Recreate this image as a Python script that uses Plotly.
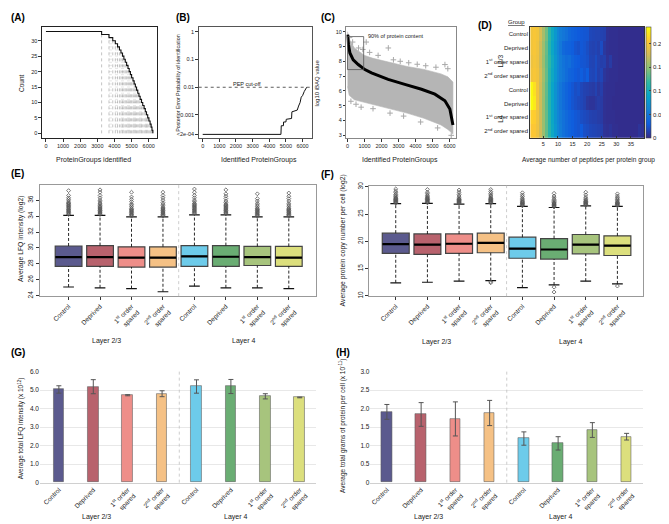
import plotly.graph_objects as go

W, H = 669, 524
FONT = "Liberation Sans, Arial, Helvetica, sans-serif"

# ======================= DATA =======================
# (A) protein groups identified vs. number of samples (count)
a_x = [0, 3250, 3680, 3900, 4050, 4180, 4290, 4380, 4470, 4550, 4630, 4710,
       4790, 4860, 4930, 5000, 5080, 5150, 5220, 5290, 5360, 5430, 5500,
       5580, 5650, 5730, 5800, 5870, 5940, 6010, 6080, 6140, 6190, 6240]
a_count = [33, 32, 31, 30, 29, 28, 27, 26, 25, 24, 23, 22, 21, 20, 19, 18,
           17, 16, 15, 14, 13, 12, 11, 10, 9, 8, 7, 6, 5, 4, 3, 2, 1, 0]
a_xticks = [0, 1000, 2000, 3000, 4000, 5000, 6000]
a_yticks = [0, 5, 10, 15, 20, 25, 30]

# (B) posterior error probability
b_x = [0, 4700, 4720, 4850, 4860, 5000, 5020, 5340, 5360, 5640, 5680, 5760,
       5850, 5920, 6000, 6100, 6250]
b_pep = [2e-4, 2e-4, 4.1e-4, 4.1e-4, 5.6e-4, 5.6e-4, 7e-4, 7.5e-4, 1.3e-3,
         1.4e-3, 1.5e-3, 2.1e-3, 2.8e-3, 4.4e-3, 5e-3, 7e-3, 1e-2]
b_cutoff = 0.01
b_yticks = [1, 0.1, 0.01, 0.001, 2e-4]
b_yticktext = ["1", "0.1", "0.01", "0.001", "<2e-04"]

# (C) log10 iBAQ values
c_curve_x = [0, 20, 60, 140, 335, 630, 1020, 1410, 2390, 3370, 4350, 5140,
             5730, 6020, 6120, 6160, 6200]
c_curve_y = [9.8, 9.4, 9.1, 8.56, 8.1, 7.78, 7.44, 7.22, 6.78, 6.44, 6.11,
             5.78, 5.33, 4.78, 4.22, 3.89, 3.7]
c_env_x = [0, 100, 400, 1000, 1500, 2500, 3500, 4500, 5000, 5500, 5900, 6100, 6200]
c_env_hi = [10.0, 9.5, 8.9, 8.4, 8.2, 7.9, 7.65, 7.45, 7.3, 7.15, 6.95, 6.75, 6.6]
c_env_lo = [6.3, 5.7, 5.4, 5.2, 5.1, 4.8, 4.5, 4.15, 3.95, 3.7, 3.4, 3.2, 3.1]
c_out_x = [120, 300, 650, 900, 1100, 1300, 1800, 2400, 2700, 3100, 3600, 4100,
           4600, 5200, 5730, 5900, 200, 500, 800, 1500, 2500, 3300, 4300, 5300, 6100]
c_out_y = [9.6, 9.3, 8.9, 8.8, 9.3, 8.6, 8.4, 8.9, 8.1, 8.0, 7.9, 7.8,
           7.7, 7.6, 7.78, 7.5, 5.3, 5.1, 4.9, 4.8, 4.5, 4.3, 3.9, 3.5, 3.0]
c_box_x = [0, 950]
c_box_y = [7.44, 9.67]

# (D) normalised likelihood of peptides per protein group (columns 1..39)
d_l23_control = [0.198, 0.202, 0.198, 0.180, 0.160, 0.140, 0.115, 0.095, 0.078, 0.064,
                 0.055, 0.050, 0.045, 0.038, 0.034, 0.032, 0.029, 0.027, 0.026, 0.025,
                 0.017, 0.016, 0.015, 0.015, 0.014, 0.013, 0.004, 0.003, 0.003, 0.003,
                 0.002, 0.002, 0.002, 0.002, 0.002, 0.002, 0.002, 0.002, 0.002]
d_l23_deprived = [0.198, 0.202, 0.196, 0.176, 0.156, 0.136, 0.112, 0.092, 0.075, 0.062,
                  0.052, 0.040, 0.036, 0.034, 0.031, 0.025, 0.023, 0.027, 0.025, 0.021,
                  0.015, 0.014, 0.016, 0.013, 0.020, 0.008, 0.004, 0.003, 0.003, 0.003,
                  0.002, 0.002, 0.002, 0.002, 0.002, 0.002, 0.002, 0.002, 0.002]
d_l23_first = [0.195, 0.200, 0.195, 0.175, 0.155, 0.134, 0.116, 0.096, 0.078, 0.065,
               0.055, 0.048, 0.042, 0.044, 0.036, 0.031, 0.029, 0.026, 0.025, 0.023,
               0.016, 0.015, 0.020, 0.014, 0.012, 0.013, 0.005, 0.010, 0.003, 0.003,
               0.002, 0.002, 0.002, 0.002, 0.002, 0.002, 0.002, 0.002, 0.002]
d_l23_second = [0.198, 0.202, 0.197, 0.178, 0.157, 0.136, 0.112, 0.094, 0.077, 0.064,
                0.055, 0.049, 0.042, 0.036, 0.033, 0.029, 0.027, 0.031, 0.026, 0.031,
                0.017, 0.016, 0.020, 0.013, 0.016, 0.007, 0.004, 0.003, 0.003, 0.003,
                0.002, 0.002, 0.002, 0.002, 0.002, 0.002, 0.002, 0.002, 0.002]
d_l4_control = [0.232, 0.220, 0.198, 0.176, 0.155, 0.134, 0.110, 0.090, 0.073, 0.060,
                0.050, 0.042, 0.036, 0.030, 0.026, 0.021, 0.023, 0.017, 0.014, 0.013,
                0.011, 0.010, 0.014, 0.008, 0.012, 0.004, 0.003, 0.003, 0.003, 0.002,
                0.002, 0.002, 0.002, 0.002, 0.002, 0.002, 0.002, 0.002, 0.002]
d_l4_deprived = [0.234, 0.225, 0.198, 0.176, 0.154, 0.133, 0.110, 0.090, 0.073, 0.060,
                 0.050, 0.042, 0.036, 0.030, 0.025, 0.022, 0.019, 0.017, 0.014, 0.008,
                 0.006, 0.006, 0.009, 0.011, 0.010, 0.004, 0.003, 0.003, 0.002, 0.002,
                 0.002, 0.002, 0.002, 0.002, 0.002, 0.002, 0.002, 0.002, 0.002]
d_l4_first = [0.210, 0.208, 0.196, 0.176, 0.155, 0.135, 0.112, 0.092, 0.075, 0.062,
              0.053, 0.046, 0.040, 0.034, 0.031, 0.027, 0.025, 0.021, 0.019, 0.017,
              0.014, 0.013, 0.013, 0.011, 0.010, 0.004, 0.003, 0.003, 0.003, 0.002,
              0.002, 0.002, 0.002, 0.002, 0.002, 0.002, 0.002, 0.002, 0.002]
d_l4_second = [0.204, 0.204, 0.195, 0.176, 0.155, 0.135, 0.112, 0.094, 0.077, 0.064,
               0.055, 0.046, 0.040, 0.035, 0.031, 0.027, 0.025, 0.029, 0.022, 0.020,
               0.017, 0.016, 0.015, 0.014, 0.013, 0.005, 0.004, 0.006, 0.003, 0.003,
               0.002, 0.002, 0.002, 0.002, 0.002, 0.002, 0.002, 0.006, 0.004]
d_row_labels = ["Control", "Deprived", "1<sup>st</sup> order spared", "2<sup>nd</sup> order spared",
                "Control", "Deprived", "1<sup>st</sup> order spared", "2<sup>nd</sup> order spared"]
d_xticks = [5, 10, 15, 20, 25, 30, 35]
d_cbticks = [0, 0.05, 0.1, 0.15, 0.2]

# groups shared by E-H
groups = ["Control", "Deprived", "1<sup>st</sup> order<br>spared", "2<sup>nd</sup> order<br>spared",
          "Control", "Deprived", "1<sup>st</sup> order<br>spared", "2<sup>nd</sup> order<br>spared"]
group_colors = ["#5b5a8e", "#b8626d", "#ee8e89", "#f5c185",
                "#6dcbea", "#6aad73", "#a7c47d", "#dcdf7d"]

# (E) LFQ intensity (log2) box statistics
e_lo = [25.1, 25.0, 24.9, 24.5, 25.2, 25.0, 25.0, 24.9]
e_q1 = [27.7, 27.7, 27.6, 27.6, 27.7, 27.7, 27.8, 27.7]
e_med = [28.85, 28.85, 28.8, 28.8, 28.95, 28.9, 28.85, 28.8]
e_q3 = [30.25, 30.3, 30.15, 30.15, 30.3, 30.3, 30.2, 30.2]
e_hi = [34.1, 34.1, 33.9, 33.9, 34.15, 34.15, 33.9, 33.9]
e_out = [
    [34.2, 34.3, 34.4, 34.5, 34.6, 34.7, 34.8, 34.9, 35.0, 35.1, 35.2, 35.3, 35.4, 35.5, 35.6, 35.7, 35.9, 36.1, 36.3, 36.6, 37.2],
    [34.2, 34.3, 34.4, 34.5, 34.6, 34.7, 34.8, 34.9, 35.0, 35.1, 35.2, 35.3, 35.5, 35.6, 35.8, 36.0, 36.3, 36.6, 37.0, 37.3],
    [34.0, 34.1, 34.2, 34.3, 34.4, 34.5, 34.6, 34.7, 34.8, 34.9, 35.0, 35.2, 35.4, 35.5, 35.8, 36.1, 36.4, 37.0],
    [34.0, 34.1, 34.2, 34.3, 34.4, 34.5, 34.6, 34.7, 34.8, 34.9, 35.0, 35.1, 35.3, 35.5, 35.7, 36.0, 36.3, 36.6, 37.0],
    [34.3, 34.4, 34.5, 34.6, 34.7, 34.8, 34.9, 35.0, 35.1, 35.2, 35.3, 35.4, 35.5, 35.6, 35.8, 36.0, 36.3, 36.6, 37.0, 37.4],
    [34.3, 34.4, 34.5, 34.6, 34.7, 34.8, 34.9, 35.0, 35.1, 35.2, 35.3, 35.4, 35.5, 35.7, 35.9, 36.2, 36.5, 36.8, 37.3],
    [34.0, 34.1, 34.2, 34.3, 34.4, 34.5, 34.6, 34.7, 34.8, 34.9, 35.0, 35.2, 35.4, 35.6, 35.9, 36.2, 36.8],
    [34.0, 34.1, 34.2, 34.3, 34.4, 34.5, 34.6, 34.7, 34.8, 34.9, 35.0, 35.2, 35.4, 35.6, 35.9, 36.2, 36.5, 36.9],
]

# (F) protein copy number per cell (log2) box statistics
f_lo = [12.4, 12.5, 12.7, 12.8, 11.5, 12.0, 12.7, 12.2]
f_q1 = [17.8, 17.6, 17.8, 17.9, 16.9, 16.75, 17.7, 17.4]
f_med = [19.5, 19.4, 19.55, 19.7, 18.65, 18.5, 19.4, 19.2]
f_q3 = [21.5, 21.35, 21.35, 21.5, 20.75, 20.5, 21.25, 21.0]
f_hi = [26.9, 26.95, 26.8, 26.9, 26.4, 26.2, 26.5, 26.4]
f_out = [
    [27.0, 27.1, 27.2, 27.3, 27.4, 27.5, 27.6, 27.7, 27.8, 27.9, 28.0, 28.2, 28.4, 28.6, 28.9, 29.2, 29.6],
    [27.05, 27.15, 27.25, 27.35, 27.5, 27.6, 27.7, 27.8, 27.9, 28.0, 28.2, 28.4, 28.7, 29.0, 29.5],
    [26.9, 27.0, 27.1, 27.2, 27.3, 27.4, 27.5, 27.6, 27.7, 27.8, 28.0, 28.3, 28.6, 29.0, 29.4],
    [27.0, 27.1, 27.2, 27.3, 27.4, 27.5, 27.6, 27.7, 27.8, 27.9, 28.1, 28.3, 28.5, 28.8, 29.1, 29.5, 12.6, 12.4],
    [26.5, 26.6, 26.7, 26.8, 26.9, 27.0, 27.1, 27.2, 27.3, 27.5, 27.7, 27.9, 28.2, 28.5, 28.9],
    [26.3, 26.4, 26.5, 26.6, 26.7, 26.8, 26.9, 27.0, 27.1, 27.3, 27.5, 27.7, 28.0, 28.3, 28.8, 11.6, 10.7],
    [26.6, 26.7, 26.8, 26.9, 27.0, 27.1, 27.2, 27.3, 27.4, 27.6, 27.8, 28.1, 28.5, 29.0],
    [26.5, 26.6, 26.7, 26.8, 26.9, 27.0, 27.1, 27.2, 27.4, 27.6, 27.8, 28.0, 28.3, 28.7, 11.8],
]

# (G) average total LFQ intensity (x10^12)
g_val = [5.03, 5.18, 4.72, 4.80, 5.19, 5.19, 4.66, 4.60]
g_err = [0.20, 0.38, 0.03, 0.16, 0.36, 0.38, 0.14, 0.02]
g_yticks = [0, 1, 2, 3, 4, 5, 6]
g_yticktext = ["0", "1.0", "2.0", "3.0", "4.0", "5.0", "6.0"]

# (H) average total grams of protein per cell (x10^-11)
h_val = [1.91, 1.84, 1.72, 1.88, 1.19, 1.06, 1.42, 1.24]
h_err = [0.20, 0.32, 0.46, 0.34, 0.18, 0.18, 0.20, 0.09]
h_yticks = [0, 0.5, 1, 1.5, 2, 2.5, 3]
h_yticktext = ["0", "0.5", "1.0", "1.5", "2.0", "2.5", "3.0"]

layers = ["Layer 2/3", "Layer 4"]

# ======================= HELPERS =======================
def xd(a, b):
    return [a / W, b / W]


def yd(top, bottom):
    return [1 - bottom / H, 1 - top / H]


def px(x):
    return x / W


def py(y):
    return 1 - y / H


annotations = []
shapes = []


def note(text, x, y, size=7, angle=0, bold=False, xanchor="center", color="#222"):
    if bold:
        text = "<b>" + text + "</b>"
    annotations.append(dict(text=text, x=px(x), y=py(y), xref="paper", yref="paper",
                            showarrow=False, textangle=angle, xanchor=xanchor, yanchor="middle",
                            font=dict(size=size, family=FONT, color=color)))


def framed(domain, rng, linecolor="#222", tickfont=5.5, **kw):
    d = dict(domain=domain, range=rng, showline=True, mirror=True, linecolor=linecolor,
             linewidth=1, showgrid=False, zeroline=False, ticks="outside", ticklen=2.5,
             tickwidth=0.8, tickcolor="#333",
             tickfont=dict(size=tickfont, family=FONT, color="#222"))
    d.update(kw)
    return d


fig = go.Figure()
n = len(groups)
idx = list(range(n))

# ---------------- (A) ----------------
vx, vy = [], []
for k in range(1, len(a_x)):
    vx += [a_x[k], a_x[k], None]
    vy += [0, a_count[k - 1], None]
hx, hy = [], []
for k in range(2, len(a_x) - 1):
    hx += [a_x[2], a_x[k + 1], None]
    hy += [a_count[k], a_count[k], None]
fig.add_trace(go.Scatter(x=hx, y=hy, mode="lines", line=dict(color="#cfcfcf", width=0.5, dash="dot"),
                         xaxis="x", yaxis="y", showlegend=False, hoverinfo="skip"))
fig.add_trace(go.Scatter(x=vx, y=vy, mode="lines", line=dict(color="#888", width=0.5, dash="dot"),
                         xaxis="x", yaxis="y", showlegend=False, hoverinfo="skip"))
fig.add_trace(go.Scatter(x=a_x, y=a_count, mode="lines", line=dict(color="#111", width=1.1, shape="hv"),
                         xaxis="x", yaxis="y", showlegend=False))

# ---------------- (B) ----------------
fig.add_trace(go.Scatter(x=b_x, y=b_pep, mode="lines", line=dict(color="#111", width=1),
                         xaxis="x2", yaxis="y2", showlegend=False))
shapes.append(dict(type="line", xref="x2 domain", yref="y2", x0=0, x1=1, y0=b_cutoff, y1=b_cutoff,
                   line=dict(color="#333", width=0.8, dash="dot")))

# ---------------- (C) ----------------
fig.add_trace(go.Scatter(x=c_env_x + c_env_x[::-1], y=c_env_hi + c_env_lo[::-1], mode="lines",
                         fill="toself", fillcolor="#b5b5b5", line=dict(width=0.6, color="#b5b5b5"),
                         xaxis="x3", yaxis="y3", showlegend=False, hoverinfo="skip"))
fig.add_trace(go.Scatter(x=c_out_x, y=c_out_y, mode="markers",
                         marker=dict(symbol="cross-thin-open", size=4, color="#a8a8a8",
                                     line=dict(color="#a8a8a8", width=1)),
                         xaxis="x3", yaxis="y3", showlegend=False))
fig.add_trace(go.Scatter(x=c_curve_x, y=c_curve_y, mode="lines", line=dict(color="#000", width=3),
                         xaxis="x3", yaxis="y3", showlegend=False))
shapes.append(dict(type="rect", xref="x3", yref="y3", x0=c_box_x[0], x1=c_box_x[1],
                   y0=c_box_y[0], y1=c_box_y[1], line=dict(color="#555", width=0.8)))
annotations.append(dict(text="90% of protein content", x=c_box_x[1] + 120, y=c_box_y[1] + 0.05,
                        xref="x3", yref="y3", showarrow=False, xanchor="left", yanchor="middle",
                        font=dict(size=5.5, family=FONT, color="#222")))

# ---------------- (D) ----------------
d_z = [d_l23_control, d_l23_deprived, d_l23_first, d_l23_second,
       d_l4_control, d_l4_deprived, d_l4_first, d_l4_second]
parula = [[0.0, "#352a87"], [0.125, "#0f5cdd"], [0.25, "#1481d6"], [0.375, "#06a4ca"],
          [0.5, "#2eb7a4"], [0.625, "#87bf77"], [0.75, "#d1bb59"], [0.875, "#fec832"],
          [1.0, "#f9fb0e"]]
fig.add_trace(go.Heatmap(z=d_z, x0=1, dx=1, y0=0, dy=1, colorscale=parula, zmin=0, zmax=0.235,
                         xaxis="x4", yaxis="y4",
                         colorbar=dict(x=px(638), xanchor="left", y=py(71.5), yanchor="middle",
                                       len=113 / H, lenmode="fraction", thickness=5,
                                       xpad=0, ypad=0, outlinewidth=0.6, outlinecolor="#444",
                                       tickvals=d_cbticks, ticks="inside", ticklen=2,
                                       tickfont=dict(size=6, family=FONT, color="#222"))))

# ---------------- (E) and (F) boxes ----------------
def boxes(xa, ya, lo, q1, med, q3, hi, outs):
    for i in idx:
        fig.add_trace(go.Box(x=[i], q1=[q1[i]], median=[med[i]], q3=[q3[i]],
                             lowerfence=[q1[i]], upperfence=[q3[i]], width=0.85,
                             fillcolor=group_colors[i], line=dict(color="#444", width=1.2),
                             boxpoints=False, xaxis=xa, yaxis=ya, showlegend=False))
    wx, wy, cx, cy, mx, my = [], [], [], [], [], []
    for i in idx:
        wx += [i, i, None, i, i, None]
        wy += [lo[i], q1[i], None, q3[i], hi[i], None]
        cx += [i - 0.17, i + 0.17, None, i - 0.17, i + 0.17, None]
        cy += [lo[i], lo[i], None, hi[i], hi[i], None]
        mx += [i - 0.42, i + 0.42, None]
        my += [med[i], med[i], None]
    fig.add_trace(go.Scatter(x=wx, y=wy, mode="lines", line=dict(color="#111", width=0.9, dash="3px,2px"),
                             xaxis=xa, yaxis=ya, showlegend=False, hoverinfo="skip"))
    fig.add_trace(go.Scatter(x=cx, y=cy, mode="lines", line=dict(color="#111", width=1.2),
                             xaxis=xa, yaxis=ya, showlegend=False, hoverinfo="skip"))
    fig.add_trace(go.Scatter(x=mx, y=my, mode="lines", line=dict(color="#000", width=2.2),
                             xaxis=xa, yaxis=ya, showlegend=False, hoverinfo="skip"))
    ox, oy = [], []
    for i in idx:
        ox += [i] * len(outs[i])
        oy += outs[i]
    fig.add_trace(go.Scatter(x=ox, y=oy, mode="markers",
                             marker=dict(symbol="diamond-open", size=3, color="#555",
                                         line=dict(color="#555", width=0.8)),
                             xaxis=xa, yaxis=ya, showlegend=False))


boxes("x5", "y5", e_lo, e_q1, e_med, e_q3, e_hi, e_out)
boxes("x6", "y6", f_lo, f_q1, f_med, f_q3, f_hi, f_out)

# ---------------- (G) and (H) bars ----------------
for xa, ya, vals, errs in (("x7", "y7", g_val, g_err), ("x8", "y8", h_val, h_err)):
    fig.add_trace(go.Bar(x=idx, y=vals, width=0.31, marker=dict(color=group_colors,
                                                                  line=dict(color="rgba(90,90,90,0.55)", width=1)),
                         error_y=dict(type="data", array=errs, color="#555", thickness=1, width=2.5),
                         xaxis=xa, yaxis=ya, showlegend=False))

# separators
for xa, ya in (("x5", "y5"), ("x6", "y6"), ("x7", "y7"), ("x8", "y8")):
    shapes.append(dict(type="line", xref=xa, yref=ya + " domain", x0=3.5, x1=3.5, y0=0, y1=1,
                       line=dict(color="#c0c0c0", width=0.8, dash="dot")))

# ======================= LAYOUT =======================
cat_font = dict(size=6.5, family=FONT, color="#222")
lay = dict(
    xaxis=framed(xd(33, 148), [-233, 6470], tickvals=a_xticks, anchor="y"),
    yaxis=framed(yd(15, 128), [-1.6, 34.5], tickvals=a_yticks, anchor="x"),
    xaxis2=framed(xd(190, 303), [-240, 6540], linecolor="#555", tickvals=a_xticks, anchor="y2"),
    yaxis2=framed(yd(15, 128), [-3.84, 0.18], linecolor="#555", type="log", tickvals=b_yticks,
                  ticktext=b_yticktext, anchor="x2"),
    xaxis3=framed(xd(338, 448), [-60, 6400], linecolor="#888", tickvals=a_xticks, anchor="y3"),
    yaxis3=framed(yd(15, 128), [2.8, 10.33], linecolor="#888", tickvals=[3, 4, 5, 6, 7, 8, 9, 10],
                  anchor="x3"),
    xaxis4=framed(xd(522, 636), [0.5, 39.5], linecolor="#333", tickvals=d_xticks, ticks="inside",
                  ticklen=2, anchor="y4"),
    yaxis4=framed(yd(15, 128), [7.5, -0.5], linecolor="#333", tickvals=idx, ticktext=d_row_labels,
                  ticks="", tickfont=6, anchor="x4"),
    xaxis5=framed(xd(31, 307), [-0.91, 7.85], linecolor="#999", tickvals=idx, ticktext=groups,
                  tickangle=-45, tickfont=6.5, ticklen=3, anchor="y5"),
    yaxis5=framed(yd(175, 288), [23.95, 37.95], linecolor="#999", tickvals=[24, 26, 28, 30, 32, 34, 36],
                  tickangle=-90, tickfont=6.5, ticklen=3, anchor="x5"),
    xaxis6=framed(xd(361, 635), [-0.83, 7.81], linecolor="#999", tickvals=idx, ticktext=groups,
                  tickangle=-45, tickfont=6.5, ticklen=3, anchor="y6"),
    yaxis6=framed(yd(176, 288), [9.95, 30.2], linecolor="#999", tickvals=[10, 15, 20, 25, 30],
                  tickangle=-90, tickfont=6.5, ticklen=3, anchor="x6"),
    xaxis7=dict(domain=xd(31, 307), range=[-0.55, 7.46], tickvals=idx, ticktext=groups, tickangle=-45,
                tickfont=cat_font, showline=True, linecolor="#d0d0d0", showgrid=False, zeroline=False,
                ticks="", anchor="y7"),
    yaxis7=dict(domain=yd(364, 477), range=[0, 6.02], tickvals=g_yticks, ticktext=g_yticktext,
                tickfont=cat_font, showgrid=True, gridcolor="#e8e8e8", gridwidth=1, zeroline=False,
                showline=False, ticks="", anchor="x7"),
    xaxis8=dict(domain=xd(362, 635), range=[-0.48, 7.48], tickvals=idx, ticktext=groups, tickangle=-45,
                tickfont=cat_font, showline=True, linecolor="#d0d0d0", showgrid=False, zeroline=False,
                ticks="", anchor="y8"),
    yaxis8=dict(domain=yd(364, 477), range=[0, 3.01], tickvals=h_yticks, ticktext=h_yticktext,
                tickfont=cat_font, showgrid=True, gridcolor="#e8e8e8", gridwidth=1, zeroline=False,
                showline=False, ticks="", anchor="x8"),
)

# panel letters
for t, x, y in (("(A)", 9, 6), ("(B)", 174, 6), ("(C)", 319, 6), ("(D)", 477, 14),
                ("(E)", 9, 164), ("(F)", 319, 165), ("(G)", 9, 345), ("(H)", 334, 345)):
    note(t, x, y, size=10, bold=True, color="#000")

# axis titles
note("Count", 12, 72, size=6.5, angle=-90)
note("ProteinGroups identified", 85, 150, size=7)
note("Posterior Error Probability of identification", 169, 72, size=5.3, angle=-90)
note("Identified ProteinGroups", 250, 150, size=7)
note("PEP cut-off", 238, 73, size=5.5)
note("log10 iBAQ value", 309, 72, size=6, angle=-90)
note("Identified ProteinGroups", 392, 150, size=7)
note("<u>Group</u>", 519, 10, size=6, xanchor="right")
note("L2/3", 492, 50, size=6.5, angle=-90)
note("L4", 492, 108, size=6.5, angle=-90)
note("Average number of peptides per protein group", 580, 150, size=6.5)
note("Normalized likelihood", 657, 71, size=6.2, angle=-90)
note("Average LFQ intensity (log2)", 12, 230, size=6.8, angle=-90)
note("Average protein copy number per cell (log2)", 334, 232, size=6.8, angle=-90)
note("Average total LFQ intensity (x 10<sup>12</sup>)", 12, 422, size=6.5, angle=-90)
note("Average total grams of protein per cell (x 10<sup>-11</sup>)", 334, 420, size=6.5, angle=-90)

for (x1, x2, y) in ((98, 235, 333), (428, 562, 334), (88, 227, 512), (420, 552, 512)):
    note(layers[0], x1, y, size=7)
    note(layers[1], x2, y, size=7)

fig.update_layout(width=W, height=H, autosize=False, margin=dict(l=0, r=0, t=0, b=0),
                  paper_bgcolor="white", plot_bgcolor="white", font=dict(family=FONT),
                  annotations=annotations, shapes=shapes, barmode="overlay", bargap=0, **lay)

fig.write_html("out.html")
